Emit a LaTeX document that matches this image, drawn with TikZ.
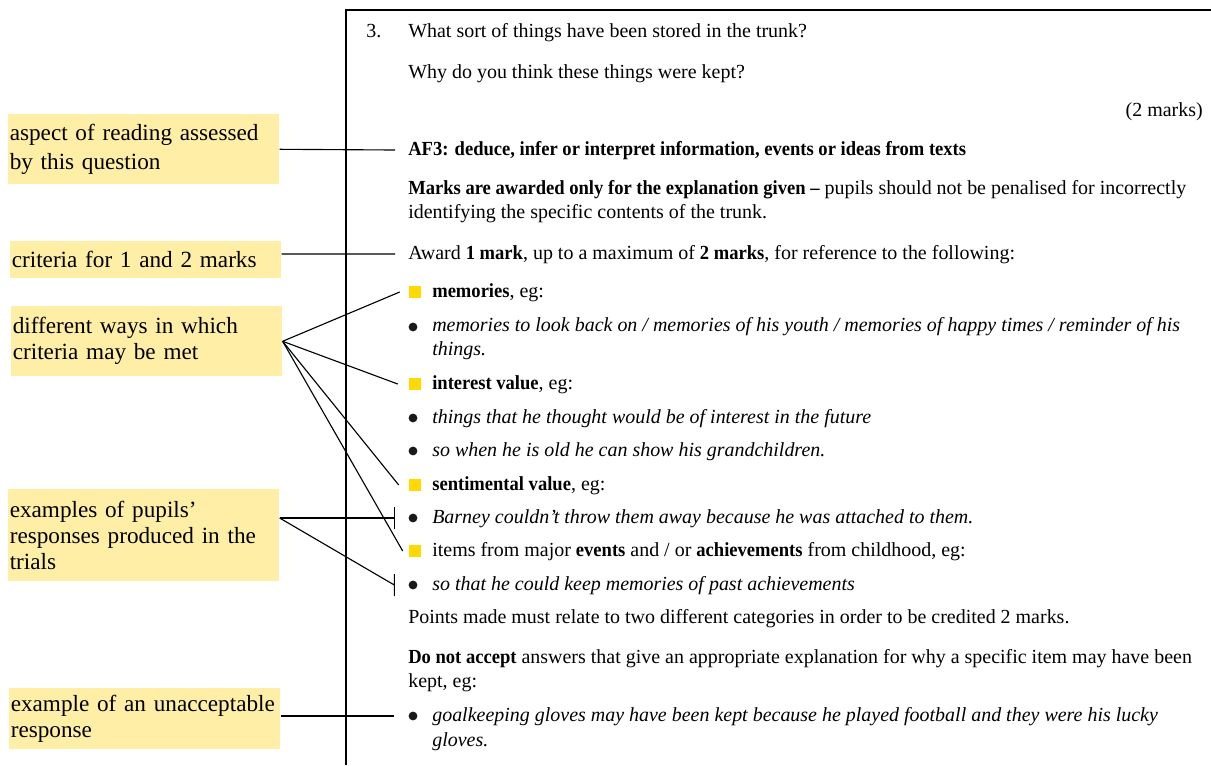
\documentclass[tikz,border=0pt]{standalone}
\usepackage{fontspec}
\setmainfont{Liberation Serif}[BoldFeatures={FakeStretch=0.93}]
\usetikzlibrary{arrows.meta}
\hyphenpenalty=10000
\exhyphenpenalty=10000
\definecolor{notefill}{RGB}{255,238,166}
\definecolor{markyellow}{RGB}{255,217,0}
\tikzset{
  note/.style = {fill=notefill, inner xsep=0.0375cm, inner ysep=0pt,
    align=left, anchor=north west, text width=6.7cm,
    font=\fontsize{16.5}{18.5}\selectfont},
  txt/.style = {anchor=base west, inner sep=0pt,
    font=\fontsize{14.2}{17}\selectfont},
  egtxt/.style = {txt, font=\fontsize{14.2}{17}\selectfont\itshape},
  marker/.style = {fill=markyellow, minimum size=0.3cm, inner sep=0pt},
  blt/.style = {circle, fill=black!90, minimum size=0.22cm, inner sep=0pt},
  link/.style = {line width=0.8pt},
  frame/.style = {line width=1.1pt}
}

\begin{document}
\begin{tikzpicture}[x=0.025cm, y=-0.025cm]
\useasboundingbox (0,0) rectangle (1211,765);
\draw[frame] (346,765) |- (1211,10);

% notes on the left
\node[note, minimum height=1.75cm, font=\fontsize{16.5}{20}\selectfont] (aspect) at (8,114)
  {aspect of reading assessed\\by this question};
\node[note, minimum height=0.925cm] (crit) at (10,241)
  {criteria for 1 and 2 marks};
\node[note, minimum height=1.75cm] (ways) at (11,306)
  {different ways in which\\criteria may be met};
\node[note, minimum height=2.3cm] (pupils) at (8,489)
  {examples of pupils'\\responses produced in the\\trials};
\node[note, minimum height=1.525cm] (unacc) at (9,688)
  {example of an unacceptable\\response};

% mark scheme text
\node[txt] (qnum) at (366,37) {3.};
\node[txt] (q1) at (408,37) {What sort of things have been stored in the trunk?};
\node[txt] (q2) at (408,78) {Why do you think these things were kept?};
\node[txt, anchor=base east] (marks) at (1203,116) {(2 marks)};
\node[txt] (af3) at (408,155)
  {\textbf{AF3: deduce, infer or interpret information, events or ideas from texts}};
\node[txt] (expl1) at (408,194)
  {\textbf{Marks are awarded only for the explanation given --} pupils should not be penalised for incorrectly};
\node[txt] (expl2) at (408,218) {identifying the specific contents of the trunk.};
\node[txt] (award) at (408,259)
  {Award \textbf{1 mark}, up to a maximum of \textbf{2 marks}, for reference to the following:};

\node[marker] (sqmem) at (415,292) {};
\node[txt] (mem) at (432,297) {\textbf{memories}, eg:};
\node[blt] (blmem) at (413,327) {};
\node[egtxt] (mem1) at (432,331)
  {memories to look back on / memories of his youth / memories of happy times / reminder of his};
\node[egtxt] (mem2) at (432,355) {things.};

\node[marker] (sqint) at (415,384) {};
\node[txt] (int) at (432,389) {\textbf{interest value}, eg:};
\node[blt] (blfut) at (413,418) {};
\node[egtxt] (fut) at (432,423) {things that he thought would be of interest in the future};
\node[blt] (blold) at (413,451) {};
\node[egtxt] (old) at (432,456) {so when he is old he can show his grandchildren.};

\node[marker] (sqsent) at (415,485) {};
\node[txt] (sent) at (432,490) {\textbf{sentimental value}, eg:};
\node[blt] (blbarney) at (413,518) {};
\node[egtxt] (barney) at (432,523)
  {Barney couldn't throw them away because he was attached to them.};

\node[marker] (sqev) at (415,551) {};
\node[txt] (ev) at (432,556)
  {items from major \textbf{events} and / or \textbf{achievements} from childhood, eg:};
\node[blt] (blpast) at (413,585) {};
\node[egtxt] (past) at (432,590) {so that he could keep memories of past achievements};

\node[txt] (points) at (408,623)
  {Points made must relate to two different categories in order to be credited 2 marks.};
\node[txt] (dna1) at (408,663)
  {\textbf{Do not accept} answers that give an appropriate explanation for why a specific item may have been};
\node[txt] (dna2) at (408,687) {kept, eg:};
\node[blt] (blgoal) at (413,716) {};
\node[egtxt] (goal1) at (432,721)
  {goalkeeping gloves may have been kept because he played football and they were his lucky};
\node[egtxt] (goal2) at (432,746) {gloves.};

% connectors
\coordinate (tkbarney) at ([xshift=-0.35cm]blbarney.west);
\coordinate (tkpast) at ([xshift=-0.35cm]blpast.west);
\draw[link] (aspect.east) -- ([xshift=-0.325cm, yshift=0.125cm]af3.base west);
\draw[link] (crit.east |- award.base) ++(0,-5) -- ([xshift=-0.325cm, yshift=0.125cm]award.base west);
\draw[link] (ways.east) -- ([xshift=-0.225cm]sqmem.west);
\draw[link] (ways.east) -- ([xshift=-0.275cm]sqint.west);
\draw[link] (ways.east) -- ([xshift=-0.25cm]sqsent.west);
\draw[link] (ways.east) -- ([xshift=-0.15cm]sqev.west);
\draw[link] (pupils.east |- tkbarney) -- (tkbarney) ++(0,-11) -- ++(0,22);
\draw[link] (pupils.east |- tkbarney) -- (tkpast) ++(0,-11) -- ++(0,22);
\draw[link] (unacc.east |- blgoal) -- ([xshift=-0.35cm]blgoal.west);
\end{tikzpicture}
\end{document}
